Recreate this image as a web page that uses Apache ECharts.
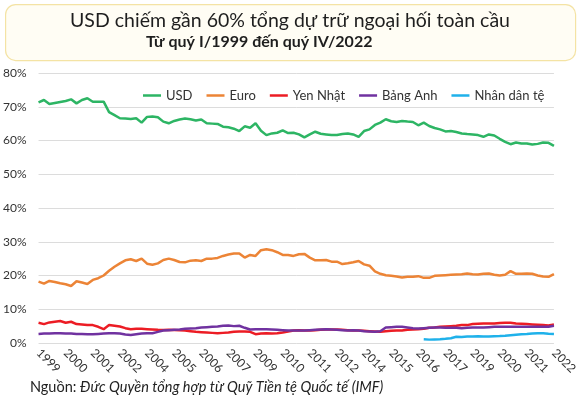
<!DOCTYPE html>
<html>
<head>
<meta charset="utf-8">
<script src="https://cdn.jsdelivr.net/npm/echarts@6/dist/echarts.min.js"></script>
<style>html,body{margin:0;padding:0;background:#fff;}#c{width:580px;height:406px;}</style>
</head>
<body>
<div id="c"></div>
<script>
const years = [];
for (let y = 1999; y <= 2022; y++) { years.push(String(y)); }
const categories = [];
years.forEach(y => { categories.push(y, y, y, y); });

const usd = [71.3,72.0,70.8,71.1,71.4,71.7,72.2,71.0,72.0,72.5,71.5,71.5,71.5,68.4,67.5,66.6,66.5,66.4,66.6,65.3,
67.0,67.1,66.9,65.6,65.1,65.8,66.2,66.5,66.3,65.9,66.2,65.1,65.0,64.9,64.1,63.9,63.5,62.8,64.2,63.8,
65.1,62.9,61.6,62.1,62.3,63.0,62.2,62.3,61.8,60.9,61.8,62.6,62.0,61.8,61.6,61.6,61.9,62.1,61.8,61.1,
62.8,63.3,64.6,65.3,66.3,65.7,65.5,65.8,65.6,65.5,64.5,65.3,64.3,63.7,63.3,62.7,62.8,62.5,62.1,61.9,
61.8,61.6,61.1,61.8,61.5,60.5,59.6,58.9,59.4,59.1,59.1,58.8,59.0,59.4,59.3,58.4];
const euro = [18.2,17.6,18.4,18.1,17.7,17.4,16.9,18.3,17.9,17.5,18.7,19.2,20.0,21.4,22.6,23.6,24.5,24.8,24.3,25.0,
23.5,23.2,23.6,24.6,25.0,24.6,24.0,23.9,24.4,24.5,24.3,25.0,25.0,25.2,25.8,26.2,26.5,26.5,25.3,26.1,
25.8,27.5,27.8,27.5,26.9,26.1,26.1,25.8,26.3,26.4,25.3,24.5,24.5,24.6,24.1,24.1,23.4,23.6,23.9,24.3,
23.3,22.9,21.2,20.5,20.1,19.9,19.7,19.4,19.6,19.6,19.8,19.3,19.3,19.9,20.0,20.1,20.2,20.3,20.4,20.6,
20.4,20.3,20.5,20.6,20.2,20.0,20.2,21.3,20.5,20.5,20.6,20.5,20.0,19.7,19.6,20.4];
const yen = [6.0,5.6,6.1,6.3,6.5,6.0,6.3,5.6,5.5,5.3,5.3,4.8,4.1,5.3,5.1,4.9,4.4,4.1,4.2,4.2,
4.1,4.0,3.9,3.85,3.9,3.85,3.8,3.7,3.5,3.3,3.2,3.1,3.0,2.9,3.0,3.1,3.3,3.4,3.4,3.3,
2.6,2.8,2.9,2.8,2.9,3.1,3.4,3.7,3.8,3.7,3.7,3.8,3.9,4.0,4.0,4.0,3.9,3.8,3.7,3.7,
3.6,3.5,3.4,3.3,3.5,3.6,3.7,3.7,3.9,4.0,4.1,4.2,4.5,4.6,4.8,4.9,5.0,5.1,5.3,5.3,
5.6,5.7,5.8,5.8,5.8,5.9,6.0,6.0,5.8,5.7,5.6,5.5,5.4,5.3,5.2,5.5];
const gbp = [2.7,2.8,2.8,2.9,2.9,2.8,2.8,2.7,2.7,2.6,2.6,2.7,2.8,2.9,2.9,2.8,2.5,2.4,2.6,2.8,
2.9,2.9,3.3,3.7,3.8,3.9,4.0,4.2,4.3,4.4,4.6,4.7,4.8,4.9,5.1,5.2,5.0,5.1,4.5,4.0,
4.1,4.1,4.1,4.0,3.9,3.8,3.7,3.7,3.7,3.7,3.8,3.9,4.0,4.1,4.0,3.9,3.8,3.7,3.8,3.7,
3.5,3.4,3.3,3.5,4.6,4.7,4.8,4.8,4.6,4.4,4.3,4.4,4.5,4.6,4.6,4.5,4.5,4.5,4.4,4.5,
4.6,4.6,4.6,4.7,4.8,4.8,4.8,4.8,4.8,4.8,4.8,4.8,4.8,4.8,4.8,5.1];
const rmbValues = [1.08,1.0,1.07,1.12,1.23,1.4,1.84,1.8,1.89,1.95,1.97,1.96,1.94,2.02,2.05,2.13,2.29,2.45,2.61,2.66,2.79,2.88,2.88,2.76,2.69];
const rmbStart = 71;
const rmb = categories.map((c, i) => i >= rmbStart ? rmbValues[i - rmbStart] : null);

const seriesNames = ['USD', 'Euro', 'Yen Nhật', 'Bảng Anh', 'Nhân dân tệ'];
const seriesColors = ['#2db564', '#ec8436', '#ec1c24', '#7032a0', '#1fb1ea'];
const seriesData = [usd, euro, yen, gbp, rmb];

const titleText = 'USD chiếm gần 60% tổng dự trữ ngoại hối toàn cầu';
const subtitleText = 'Từ quý I/1999 đến quý IV/2022';

const chart = echarts.init(document.getElementById('c'), null, {renderer: 'canvas'});
chart.setOption({
  animation: false,
  backgroundColor: '#ffffff',
  textStyle: {fontFamily: 'Lato'},
  graphic: [
    {type: 'rect', left: 5, top: 4, shape: {width: 570, height: 56, r: 10},
     style: {fill: '#fffdf4', stroke: '#f4e3a4', lineWidth: 1.2}, z: 0},
    {type: 'text', left: 'center', top: 11, style: {text: titleText, fontFamily: 'Lato', fontSize: 19.5, fill: '#1e1e1e'}, z: 2},
    {type: 'text', left: 146, top: 34, style: {text: subtitleText, fontFamily: 'Lato', fontSize: 16, fontWeight: 'bold', fill: '#1e1e1e'}, z: 2},
    {type: 'text', left: 30, top: 380, style: {rich: {a: {fontFamily: 'Lato', fontSize: 14.5, fill: '#222'}, b: {fontFamily: 'Lato', fontSize: 14.5, fontStyle: 'italic', fill: '#222'}}, text: '{a|Nguồn: }{b|Đức Quyền tổng hợp từ Quỹ Tiền tệ Quốc tế (IMF)}'}, z: 2}
  ],
  legend: {
    top: 84, left: 138,
    itemWidth: 18, itemHeight: 2.5, itemGap: 14,
    icon: 'rect',
    textStyle: {fontFamily: 'Lato', fontSize: 13, color: '#333'},
    data: seriesNames
  },
  grid: {left: 36, right: 24, top: 73, bottom: 63, containLabel: false},
  xAxis: {
    type: 'category', data: categories, boundaryGap: false,
    axisLine: {show: false}, axisTick: {show: false},
    axisLabel: {interval: 4, rotate: -45, fontFamily: 'Lato', fontSize: 12, color: '#333', margin: 8}
  },
  yAxis: {
    type: 'value', min: 0, max: 80, interval: 10,
    axisLine: {show: false}, axisTick: {show: false},
    axisLabel: {formatter: '{value}%', fontFamily: 'Lato', fontSize: 12, color: '#333', margin: 12},
    splitLine: {lineStyle: {color: '#dcdcdc', width: 1}}
  },
  series: seriesNames.map((n, k) => ({
    name: n, type: 'line', data: seriesData[k], showSymbol: false, symbol: 'none',
    connectNulls: false,
    lineStyle: {color: seriesColors[k], width: 2.5},
    itemStyle: {color: seriesColors[k]}
  }))
});
</script>
</body>
</html>
